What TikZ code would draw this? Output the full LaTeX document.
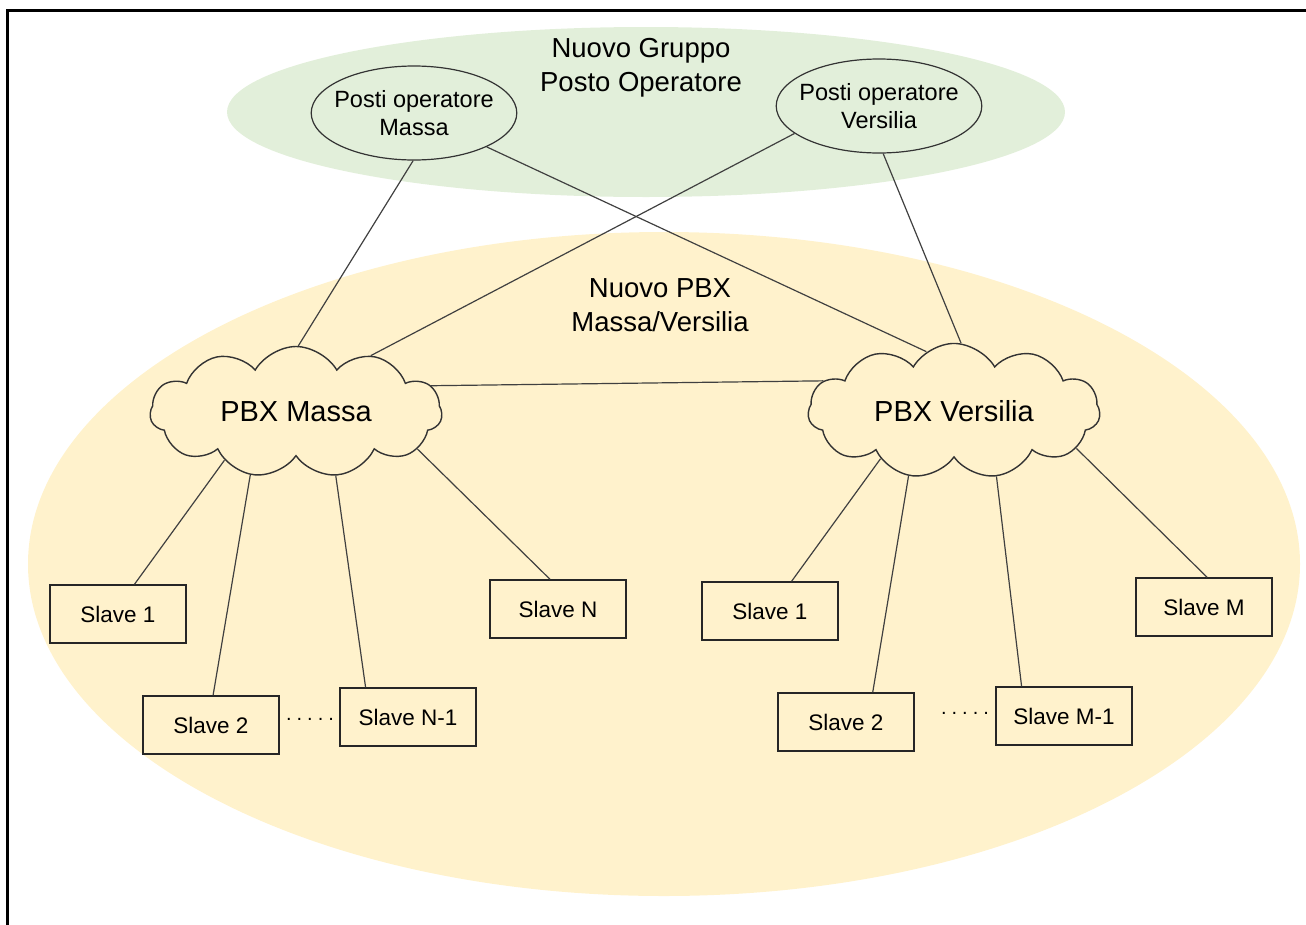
\documentclass[tikz,border=0pt]{standalone}
\usepackage{fontspec}
\setmainfont{Liberation Sans}
\usetikzlibrary{shapes.geometric}
\usetikzlibrary{shapes.symbols}

\definecolor{opgreen}{HTML}{E2EFDA}
\definecolor{pbxyellow}{HTML}{FFF2CC}
\definecolor{linegray}{HTML}{404040}

\tikzset{
 slavebox/.style={draw=black!85, line width=1.4pt, fill=pbxyellow, minimum width=136pt, minimum height=58pt, inner sep=0pt, font=\fontsize{22.5}{27}\selectfont},
 opellipse/.style={ellipse, draw=black!80, line width=1.2pt, fill=opgreen, minimum width=205pt, minimum height=94pt, inner xsep=-7pt, inner ysep=0pt, align=center, font=\fontsize{23.5}{28}\selectfont},
 pbxcloud/.style={cloud, cloud puffs=11, cloud puff arc=120, aspect=2.2, draw=black!80, line width=1.4pt, fill=pbxyellow, minimum width=292pt, minimum height=131pt, inner sep=0pt, font=\fontsize{29}{34}\selectfont},
 headtext/.style={align=center, font=\fontsize{27.5}{34}\selectfont},
 link/.style={draw=linegray, line width=1.2pt},
 dotstext/.style={font=\fontsize{20}{24}\selectfont}
}

\begin{document}
\begin{tikzpicture}[x=1pt, y=-1pt]
\useasboundingbox (0,0) rectangle (1306,924);
% groups
\fill[opgreen] (646,112) ellipse [x radius=419, y radius=85];
\fill[pbxyellow] (664,564) ellipse [x radius=636, y radius=332];
% frame
\draw[line width=3pt] (7.5,940) -- (7.5,10.5) -- (1320,10.5);

\node[headtext] (grp) at (641,68) {Nuovo Gruppo\\Posto Operatore};
\node[headtext] (pbx) at (660,305) {Nuovo PBX\\Massa/Versilia};

\node[opellipse] (pm) at (414,113) {Posti operatore\\Massa};
\node[opellipse] (pv) at (879,106) {Posti operatore\\Versilia};
\node[pbxcloud] (cm) at (296,412) {PBX Massa};
\node[pbxcloud] (cv) at (954,411) {PBX Versilia};

\foreach \name/\x/\y/\txt in {s1/118/614/Slave 1, s2/211/725/Slave 2, sN1/408/717/Slave N-1, sN/558/609/Slave N,
  r1/770/611/Slave 1, r2/846/722/Slave 2, rM1/1064/716/Slave M-1, rM/1204/607/Slave M}
 \node[slavebox] (\name) at (\x,\y) {\txt};

\node[dotstext] (dl) at (310,719) {.\hspace{5pt}.\hspace{5pt}.\hspace{5pt}.\hspace{5pt}.};
\node[dotstext] (dr) at (965,713) {.\hspace{5pt}.\hspace{5pt}.\hspace{5pt}.\hspace{5pt}.};

% links
\draw[link] (pm.269) -- (cm.88);
\draw[link] (pm.335) -- (cv.115);
\draw[link] (pv.198) -- (cm.37);
\draw[link] (pv.275) -- (cv.84);
\draw[link] (cm.11) -- (cv.167);
\foreach \c/\a/\b/\s in {cm/214/61/s1, cm/234/86/s2, cm/302/145/sN1, cm/343/105/sN,
  cv/213/54/r1, cv/235/48/r2, cv/303/145/rM1, cv/343/84/rM}
 \draw[link] (\c.\a) -- (\s.\b);
\end{tikzpicture}
\end{document}
